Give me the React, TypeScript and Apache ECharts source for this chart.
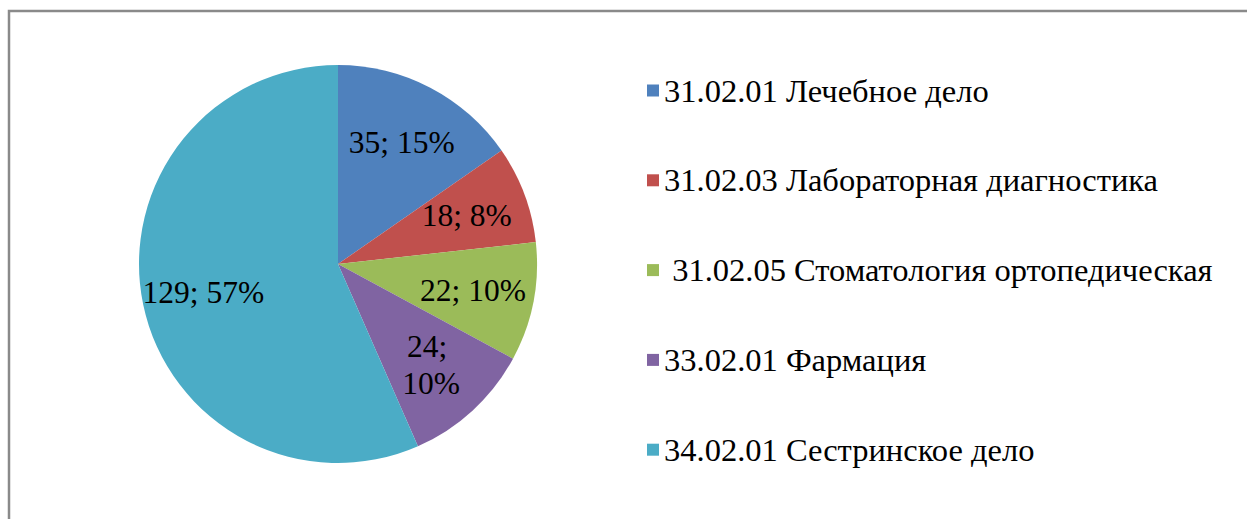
import React, { useEffect, useRef } from "react";
import * as echarts from "echarts";

const categories = [
  "31.02.01 Лечебное дело",
  "31.02.03 Лабораторная диагностика",
  " 31.02.05 Стоматология ортопедическая",
  "33.02.01 Фармация",
  "34.02.01 Сестринское дело",
];
const values = [35, 18, 22, 24, 129];
const colors = ["#4F81BD", "#C0504D", "#9BBB59", "#8064A2", "#4BACC6"];
// label wrap widths (the narrow purple slice wraps its label on two lines)
const labelWidths = [200, 200, 200, 70, 200];

const FONT = "Liberation Serif";

export default function App() {
  const ref = useRef<HTMLDivElement>(null);
  useEffect(() => {
    if (!ref.current) return;
    const chart = echarts.init(ref.current, undefined, { renderer: "svg" });
    const pieData = categories.map((name, i) => ({
      name,
      value: values[i],
      itemStyle: { color: colors[i] },
    }));
    const labelData = categories.map((name, i) => ({
      name,
      value: values[i],
      label: { width: labelWidths[i] },
    }));
    chart.setOption({
      animation: false,
      backgroundColor: "#ffffff",
      color: colors,
      textStyle: { fontFamily: FONT },
      graphic: [
        {
          type: "rect",
          shape: { x: 9, y: 11, width: 1400, height: 700 },
          style: { fill: "none", stroke: "#8a8a8a", lineWidth: 2.5 },
          silent: true,
        },
      ],
      legend: {
        orient: "vertical",
        left: 642,
        top: 69,
        itemWidth: 12,
        itemHeight: 12,
        itemGap: 56.8,
        icon: "rect",
        selectedMode: false,
        data: categories,
        textStyle: {
          fontFamily: FONT,
          fontSize: 32.5,
          lineHeight: 32,
          color: "#000",
        },
      },
      series: [
        {
          type: "pie",
          center: [338, 264],
          radius: [0, 199],
          startAngle: 90,
          clockwise: true,
          silent: true,
          label: { show: false },
          labelLine: { show: false },
          itemStyle: { borderWidth: 0 },
          data: pieData,
        },
        {
          type: "pie",
          center: [338, 264],
          radius: [70, 199],
          startAngle: 90,
          clockwise: true,
          silent: true,
          legendHoverLink: false,
          itemStyle: { color: "rgba(0,0,0,0)", borderWidth: 0 },
          labelLine: { show: false },
          label: {
            show: true,
            position: "inside",
            formatter: (p: any) => `${p.value}; ${p.percent}%`,
            fontFamily: FONT,
            fontSize: 31.5,
            lineHeight: 37,
            color: "#000",
            overflow: "break",
            align: "center",
          },
          percentPrecision: 0,
          data: labelData,
        },
      ],
    });
    return () => chart.dispose();
  }, []);
  return (
    <div
      ref={ref}
      style={{ position: "absolute", left: 0, top: 0, width: 1247, height: 519 }}
    />
  );
}
